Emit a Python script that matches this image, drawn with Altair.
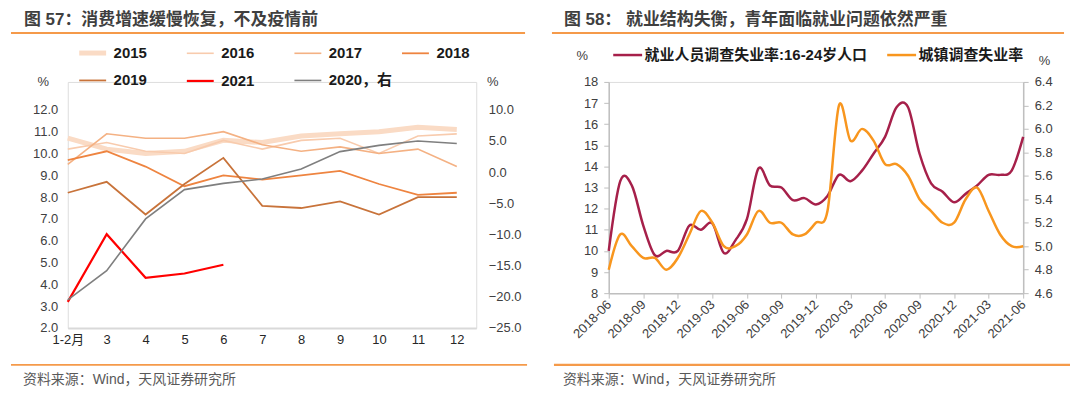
import json
import altair as alt
import pandas as pd

FONT = "Liberation Sans, Noto Sans CJK SC"
ORANGE_RULE = "#F59A4A"

# ---------------- Figure 57 data ----------------
months = ["1-2月", "3", "4", "5", "6", "7", "8", "9", "10", "11", "12"]
y2015 = [10.7, 10.2, 10.0, 10.1, 10.6, 10.5, 10.8, 10.9, 11.0, 11.2, 11.1]
y2016 = [10.2, 10.5, 10.1, 10.0, 10.6, 10.2, 10.6, 10.7, 10.0, 10.8, 10.9]
y2017 = [9.5, 10.9, 10.7, 10.7, 11.0, 10.4, 10.1, 10.3, 10.0, 10.2, 9.4]
y2018 = [9.7, 10.1, 9.4, 8.5, 9.0, 8.8, 9.0, 9.2, 8.6, 8.1, 8.2]
y2019 = [8.2, 8.7, 7.2, 8.6, 9.8, 7.6, 7.5, 7.8, 7.2, 8.0, 8.0]
y2021 = [3.2, 6.3, 4.3, 4.5, 4.9]
y2020 = [-20.5, -15.8, -7.5, -2.8, -1.8, -1.1, 0.5, 3.3, 4.3, 5.0, 4.6]

left_names = ["2015", "2016", "2017", "2018", "2019", "2021"]
left_series = [y2015, y2016, y2017, y2018, y2019, y2021]
name2020 = "2020，右"
legend_order = ["2015", "2016", "2017", "2018", "2019", "2021", name2020]
legend_colors = ["#FADBC5", "#F8CBAD", "#F4B183", "#EE8440", "#C8733A", "#FF0000", "#7F7F7F"]
legend_widths = [5, 1.6, 1.6, 1.8, 1.8, 2.2, 1.6]
left_ticks = [2, 3, 4, 5, 6, 7, 8, 9, 10, 11, 12]
right_ticks = [-25, -20, -15, -10, -5, 0, 5, 10]

rows = []
for name, vals in zip(left_names, left_series):
    for i, v in enumerate(vals):
        rows.append({"year": name, "idx": i, "value": v})
df_left = pd.DataFrame(rows)
df_2020 = pd.DataFrame({"year": name2020, "idx": list(range(len(y2020))), "value": y2020})

# ---------------- Figure 58 data ----------------
ym = [str(p) for p in pd.period_range("2018-06", "2021-06", freq="M")]
youth = [10.0, 13.3, 13.1, 11.2, 9.8, 10.0, 10.0, 11.2, 11.0, 11.3, 9.9, 10.5,
         11.5, 13.9, 13.1, 13.0, 12.4, 12.5, 12.2, 12.6, 13.6, 13.3, 13.8, 14.6,
         15.4, 16.8, 16.8, 14.6, 13.2, 12.8, 12.3, 12.7, 13.1, 13.6, 13.6, 13.8, 15.4]
urban = [4.8, 5.1, 5.0, 4.9, 4.9, 4.8, 4.9, 5.1, 5.3, 5.2, 5.0, 5.0,
         5.1, 5.3, 5.2, 5.2, 5.1, 5.1, 5.2, 5.3, 6.2, 5.9, 6.0, 5.9,
         5.7, 5.7, 5.6, 5.4, 5.3, 5.2, 5.2, 5.4, 5.5, 5.3, 5.1, 5.0, 5.0]
youth_name = "就业人员调查失业率:16-24岁人口"
urban_name = "城镇调查失业率"
x_ticks58 = ["2018-06", "2018-09", "2018-12", "2019-03", "2019-06", "2019-09", "2019-12",
             "2020-03", "2020-06", "2020-09", "2020-12", "2021-03", "2021-06"]
youth_ticks = [8, 9, 10, 11, 12, 13, 14, 15, 16, 17, 18]
urban_ticks = [4.6, 4.8, 5.0, 5.2, 5.4, 5.6, 5.8, 6.0, 6.2, 6.4]

df_youth = pd.DataFrame({"month": ym, "value": youth, "rate": youth_name})
df_urban = pd.DataFrame({"month": ym, "value": urban, "rate": urban_name})


def text_layer(txt, x, y, size, color, weight="normal"):
    return alt.Chart(alt.InlineData(values=[{"t": txt}])).mark_text(
        align="left", baseline="middle", fontSize=size, fontWeight=weight,
        color=color, font=FONT
    ).encode(x=alt.value(x), y=alt.value(y), text="t:N")


def rule_layer(x1, x2, y, color, w):
    return alt.Chart(alt.InlineData(values=[{"a": 1}])).mark_rule(
        color=color, strokeWidth=w
    ).encode(x=alt.value(x1), x2=alt.value(x2), y=alt.value(y))


# ---------------- left panel ----------------
# plot area shares its top with the right panel; the 12.0 / 10.0 ticks sit 28px below it
LW, LH = 410, 247
AXIS_SPAN = 219  # pixels between the lowest and highest labelled tick
top_left = 2 + LH * (12 - 2) / AXIS_SPAN
top_right = -25 + LH * (10 - (-25)) / AXIS_SPAN

label_expr = json.dumps(months, ensure_ascii=False) + "[datum.value]"
x_left = alt.X(
    "idx:Q",
    scale=alt.Scale(domain=[0, 10.5], nice=False, zero=False),
    axis=alt.Axis(values=list(range(len(months))), labelExpr=label_expr, title=None,
                  domain=True, domainColor="#D9D9D9", domainWidth=2, ticks=False, grid=False,
                  labelFlush=False, labelFontSize=13, labelColor="#262626", labelPadding=6,
                  labelFont=FONT),
)
left_legend = alt.Legend(orient="none", legendX=9, legendY=-45, direction="horizontal", columns=4,
                         title=None, symbolType="stroke", symbolSize=729, labelFontSize=15,
                         labelFontWeight="bold", labelFont=FONT, labelColor="#1A1A1A",
                         labelOffset=5, columnPadding=5, rowPadding=3, gridAlign="all",
                         padding=0, labelLimit=200)
color_left = alt.Color("year:N", scale=alt.Scale(domain=legend_order, range=legend_colors),
                       legend=left_legend)
sw_left = alt.StrokeWidth("year:N",
                          scale=alt.Scale(type="ordinal", domain=legend_order, range=legend_widths),
                          legend=left_legend)

lines_a = alt.Chart(df_left).mark_line().encode(
    x=x_left,
    y=alt.Y("value:Q", scale=alt.Scale(domain=[2, top_left], nice=False, zero=False),
            axis=alt.Axis(orient="left", values=left_ticks, format=".1f", domain=False, ticks=False,
                          grid=False, labelFontSize=13, labelColor="#404040", labelPadding=10,
                          labelFont=FONT, title="%", titleAngle=0, titleX=-25, titleY=0,
                          titleFontSize=13, titleFontWeight="normal", titleColor="#404040",
                          titleAlign="center", titleBaseline="middle", titleFont=FONT)),
    color=color_left,
    strokeWidth=sw_left,
)
lines_b = alt.Chart(df_2020).mark_line().encode(
    x=x_left,
    y=alt.Y("value:Q", scale=alt.Scale(domain=[-25, top_right], nice=False, zero=False),
            axis=alt.Axis(orient="right", values=right_ticks, format=".1f", domain=False, ticks=False,
                          grid=False, labelFontSize=13, labelColor="#404040", labelPadding=12,
                          labelFont=FONT, title="%", titleAngle=0, titleX=16, titleY=0,
                          titleFontSize=13, titleFontWeight="normal", titleColor="#404040",
                          titleAlign="center", titleBaseline="middle", titleFont=FONT)),
    color=color_left,
    strokeWidth=sw_left,
)

left = alt.layer(
    lines_a, lines_b,
    text_layer("图 57：消费增速缓慢恢复，不及疫情前", -44, -62, 17, "#3F3F3F", "bold"),
    rule_layer(-57, 459, -49, ORANGE_RULE, 2),
    rule_layer(-57, 461, 284, ORANGE_RULE, 2),
    text_layer("资料来源：Wind，天风证券研究所", -45, 299, 14, "#595959"),
).resolve_scale(y="independent").properties(width=LW, height=LH)

# ---------------- right panel ----------------
RW, RH = 416, 212
AX = "#BFBFBF"
x_right = alt.X(
    "month:O", sort=ym,
    scale=alt.Scale(type="point", padding=0),
    axis=alt.Axis(values=x_ticks58, labelAngle=-45, labelAlign="right", labelBaseline="middle",
                  title=None, domain=True, domainColor=AX, domainWidth=1.5, ticks=True,
                  tickColor=AX, tickSize=5, grid=False, labelFontSize=13, labelColor="#404040",
                  labelPadding=4, labelFont=FONT),
)
color_right = alt.Color(
    "rate:N",
    scale=alt.Scale(domain=[youth_name, urban_name], range=["#A6204A", "#F8961E"]),
    legend=alt.Legend(orient="none", legendX=3, legendY=-43, direction="horizontal", title=None,
                      symbolType="stroke", symbolSize=841, symbolStrokeWidth=2.5, labelFontSize=15,
                      labelFontWeight="bold", labelFont=FONT, labelColor="#1A1A1A", labelOffset=1,
                      columnPadding=14, padding=0, labelLimit=400),
)
line_youth = alt.Chart(df_youth).mark_line(interpolate="cardinal", strokeWidth=2.5).encode(
    x=x_right,
    y=alt.Y("value:Q", scale=alt.Scale(domain=[8, 18], nice=False, zero=False),
            axis=alt.Axis(orient="left", values=youth_ticks, domain=True, domainColor=AX,
                          domainWidth=1.5, ticks=True, tickColor=AX, tickSize=5, grid=False,
                          labelFontSize=13, labelColor="#404040", labelPadding=6, labelFont=FONT,
                          title="%", titleAngle=0, titleX=-27, titleY=-27, titleFontSize=13,
                          titleFontWeight="normal", titleColor="#404040", titleAlign="center",
                          titleBaseline="middle", titleFont=FONT)),
    color=color_right,
)
line_urban = alt.Chart(df_urban).mark_line(interpolate="cardinal", strokeWidth=2.5).encode(
    x=x_right,
    y=alt.Y("value:Q", scale=alt.Scale(domain=[4.6, 6.4], nice=False, zero=False),
            axis=alt.Axis(orient="right", values=urban_ticks, format=".1f", domain=True,
                          domainColor=AX, domainWidth=1.5, ticks=True, tickColor=AX, tickSize=5,
                          grid=False, labelFontSize=13, labelColor="#404040", labelPadding=6,
                          labelFont=FONT, title="%", titleAngle=0, titleX=21, titleY=-21,
                          titleFontSize=13, titleFontWeight="normal", titleColor="#404040",
                          titleAlign="center", titleBaseline="middle", titleFont=FONT)),
    color=color_right,
)

right = alt.layer(
    line_youth, line_urban,
    text_layer("图 58： 就业结构失衡，青年面临就业问题依然严重", -45, -62, 17, "#3F3F3F", "bold"),
    rule_layer(-57, 457, -49, ORANGE_RULE, 2),
    rule_layer(-55, 463, 284, ORANGE_RULE, 2.5),
    text_layer("资料来源：Wind，天风证券研究所", -46, 299, 14, "#595959"),
).resolve_scale(y="independent").properties(width=RW, height=RH)

chart = alt.hconcat(left, right, spacing=21).resolve_scale(
    color="independent", strokeWidth="independent"
).resolve_legend(color="independent", strokeWidth="independent").properties(
    padding={"left": 1, "top": 1.5, "right": 0, "bottom": 0}
).configure_view(stroke=None).configure(font=FONT)

chart.save("out.html", embed_options={"renderer": "svg", "actions": False})
